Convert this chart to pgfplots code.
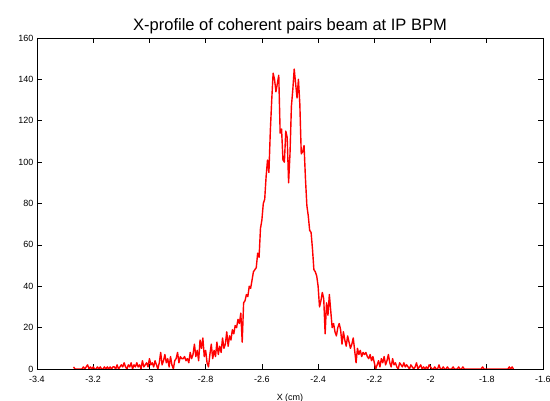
\documentclass[border=0pt]{standalone}
\usepackage{pgfplots}
\pgfplotsset{compat=1.18}
\usepackage{pgfplotstable}
\usepackage{fontspec}
\setmainfont{Liberation Sans}
\pgfplotstableread{
x y
-3.270 1
-3.265 0
-3.260 0
-3.255 0
-3.250 0
-3.245 0
-3.240 0
-3.235 1
-3.230 0
-3.225 1
-3.220 2
-3.215 0
-3.210 1
-3.205 0
-3.200 1
-3.195 0
-3.190 0
-3.185 1
-3.180 0
-3.175 1
-3.170 0
-3.165 0
-3.160 1
-3.155 0
-3.150 1
-3.145 0
-3.140 1
-3.135 0
-3.130 1
-3.125 1
-3.120 0
-3.115 2
-3.110 0
-3.105 1
-3.100 2
-3.095 1
-3.090 3
-3.085 1
-3.080 0
-3.075 2
-3.070 1
-3.065 3
-3.060 0
-3.055 2
-3.050 1
-3.045 3
-3.040 1
-3.035 2
-3.030 0
-3.025 4
-3.020 1
-3.015 2
-3.010 3
-3.005 1
-3.000 5
-2.995 2
-2.990 3
-2.985 1
-2.980 4
-2.975 2
-2.970 0
-2.965 3
-2.960 8
-2.955 2
-2.950 4
-2.945 7
-2.940 3
-2.935 5
-2.930 1
-2.925 6
-2.920 2
-2.915 0
-2.910 4
-2.905 5
-2.900 8
-2.895 3
-2.890 6
-2.885 5
-2.880 5
-2.875 6
-2.870 4
-2.865 5
-2.860 3
-2.855 8
-2.850 5
-2.845 7
-2.840 12
-2.835 6
-2.830 9
-2.825 4
-2.820 14
-2.815 10
-2.810 15
-2.805 6
-2.800 9
-2.795 3
-2.790 1
-2.785 7
-2.780 12
-2.775 5
-2.770 9
-2.765 6
-2.760 13
-2.755 7
-2.750 11
-2.745 8
-2.740 15
-2.735 10
-2.730 12
-2.725 18
-2.720 11
-2.715 16
-2.710 14
-2.705 19
-2.700 17
-2.695 21
-2.690 20
-2.685 24
-2.680 22
-2.675 27
-2.670 13
-2.665 32
-2.660 33
-2.655 36
-2.650 35
-2.645 40
-2.640 39
-2.635 43
-2.630 47
-2.625 48
-2.620 49
-2.615 56
-2.610 54
-2.605 68
-2.600 72
-2.595 80
-2.590 82
-2.585 93
-2.580 101
-2.575 95
-2.570 115
-2.565 130
-2.560 143
-2.555 140
-2.550 134
-2.545 138
-2.540 142
-2.535 114
-2.530 116
-2.525 101
-2.520 100
-2.515 115
-2.510 112
-2.505 90
-2.500 104
-2.495 127
-2.490 135
-2.485 145
-2.480 138
-2.475 131
-2.470 140
-2.465 128
-2.460 104
-2.455 105
-2.450 108
-2.445 92
-2.440 79
-2.435 74
-2.430 67
-2.425 66
-2.420 58
-2.415 48
-2.410 47
-2.405 45
-2.400 40
-2.395 30
-2.390 33
-2.385 37
-2.380 34
-2.375 17
-2.370 32
-2.365 26
-2.360 36
-2.355 28
-2.350 20
-2.345 22
-2.340 18
-2.335 16
-2.330 20
-2.325 22
-2.320 19
-2.315 12
-2.310 18
-2.305 14
-2.300 11
-2.295 16
-2.290 13
-2.285 10
-2.280 12
-2.275 15
-2.270 9
-2.265 3
-2.260 10
-2.255 7
-2.250 9
-2.245 6
-2.240 8
-2.235 7
-2.230 8
-2.225 6
-2.220 5
-2.215 7
-2.210 4
-2.205 6
-2.200 3
-2.195 0
-2.190 2
-2.185 4
-2.180 1
-2.175 5
-2.170 3
-2.165 6
-2.160 2
-2.155 4
-2.150 7
-2.145 3
-2.140 1
-2.135 5
-2.130 2
-2.125 3
-2.120 1
-2.115 0
-2.110 3
-2.105 2
-2.100 1
-2.095 3
-2.090 1
-2.085 2
-2.080 1
-2.075 0
-2.070 2
-2.065 1
-2.060 0
-2.055 1
-2.050 3
-2.045 0
-2.040 1
-2.035 2
-2.030 0
-2.025 1
-2.020 0
-2.015 1
-2.010 0
-2.005 2
-2.000 1
-1.995 0
-1.990 0
-1.985 1
-1.980 0
-1.975 0
-1.970 2
-1.965 0
-1.960 0
-1.955 1
-1.950 0
-1.945 0
-1.940 1
-1.935 0
-1.930 0
-1.925 0
-1.920 1
-1.915 0
-1.910 0
-1.905 0
-1.900 1
-1.895 0
-1.890 0
-1.885 1
-1.880 0
-1.875 0
-1.870 0
-1.865 0
-1.860 0
-1.855 0
-1.850 0
-1.845 0
-1.840 0
-1.835 0
-1.830 0
-1.825 0
-1.820 0
-1.815 1
-1.810 0
-1.805 0
-1.800 0
-1.795 0
-1.790 0
-1.785 0
-1.780 0
-1.775 0
-1.770 0
-1.765 0
-1.760 0
-1.755 0
-1.750 0
-1.745 0
-1.740 0
-1.735 0
-1.730 0
-1.725 0
-1.720 1
-1.715 0
-1.710 1
-1.705 0
}\profile
\begin{document}
\begin{tikzpicture}
\path[use as bounding box] (-37pt,-32pt) rectangle (513pt,369pt);
\begin{axis}[
  at={(0pt,0pt)}, anchor=south west,
  scale only axis, width=506pt, height=331pt,
  xmin=-3.4, xmax=-1.6, ymin=0, ymax=160,
  xtick={-3.4,-3.2,...,-1.6},
  ytick={0,20,...,160},
  tick align=inside,
  major tick length=5pt,
  axis line style={line width=0.9pt},
  every tick/.style={black, line width=0.7pt},
  /pgf/number format/assume math mode=true,
  /pgf/number format/fixed,
  ticklabel style={font=\fontsize{9}{10}\selectfont},
  xticklabel style={yshift=-4pt},
  title={X-profile of coherent pairs beam at IP BPM},
  title style={font=\fontsize{16.5}{18}\selectfont, yshift=-5pt},
  xlabel={X (cm)},
  xlabel style={font=\fontsize{9}{10}\selectfont, yshift=-4pt},
]
\addplot[red, line width=1.4pt, line join=round, no markers] table[x=x,y=y] {\profile};
\end{axis}
\end{tikzpicture}
\end{document}
